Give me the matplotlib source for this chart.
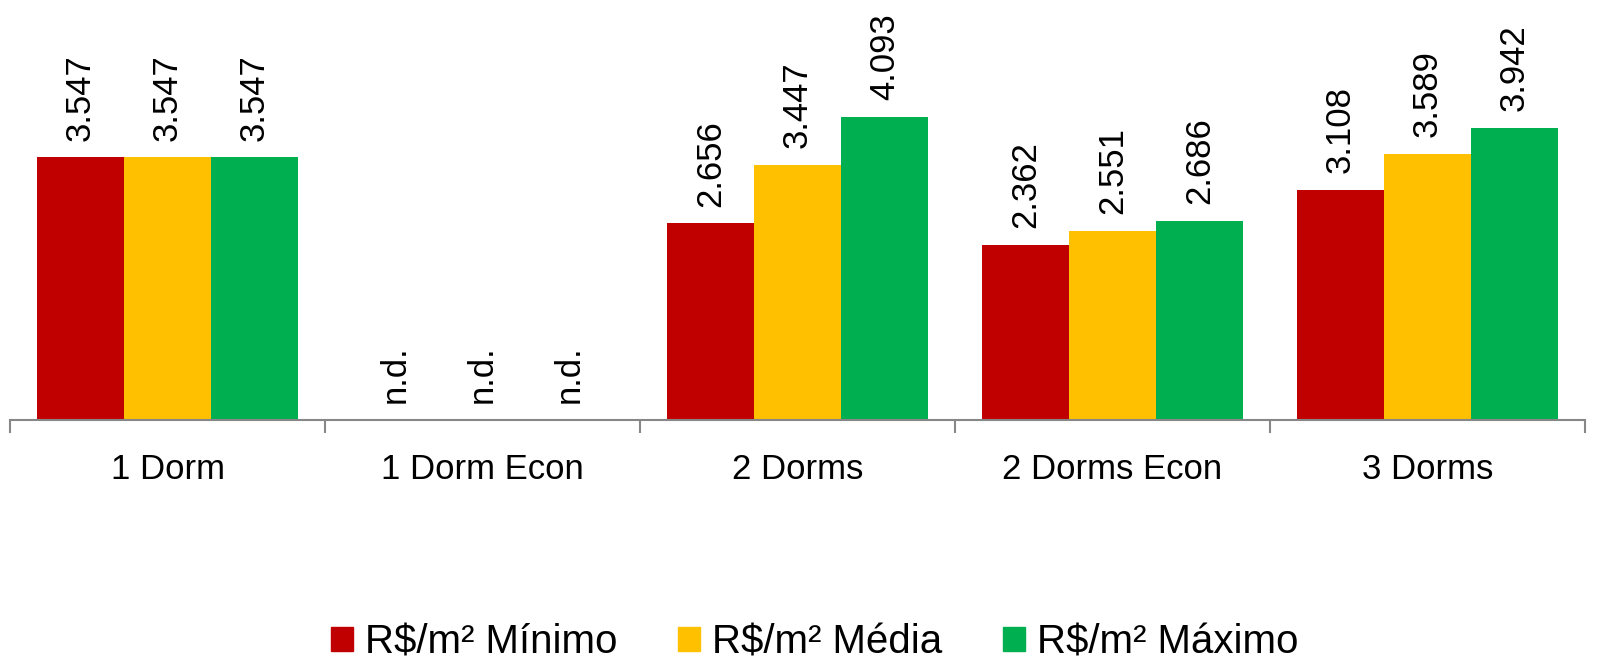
import numpy as np
import matplotlib.pyplot as plt
from matplotlib.patches import Patch

plt.rcParams['font.family'] = ['Liberation Sans', 'DejaVu Sans']

# Chart data
categories = ['1 Dorm', '1 Dorm Econ', '2 Dorms', '2 Dorms Econ', '3 Dorms']
series_names = ['R$/m² Mínimo', 'R$/m² Média', 'R$/m² Máximo']
minimo = [3.547, None, 2.656, 2.362, 3.108]
media = [3.547, None, 3.447, 2.551, 3.589]
maximo = [3.547, None, 4.093, 2.686, 3.942]
colors = ['#C00000', '#FFC000', '#00B050']

fig = plt.figure(figsize=(16.1, 6.68), dpi=100)
ax = fig.add_axes([10 / 1610, (668 - 420) / 668, 1575 / 1610, 420 / 668])

x = np.arange(len(categories))
width = 0.276
for i, (vals, col) in enumerate(zip([minimo, media, maximo], colors)):
    pos = x + (i - 1) * width
    heights = [v if v is not None else 0 for v in vals]
    ax.bar(pos, heights, width, color=col)
    for p, v in zip(pos, vals):
        txt = f'{v:.3f}' if v is not None else 'n.d.'
        ax.annotate(txt, (p, v if v is not None else 0), xytext=(0, 12),
                    textcoords='offset points', rotation=90,
                    ha='center', va='bottom', fontsize=25)

ax.set_xlim(-0.5, len(categories) - 0.5)
ax.set_ylim(0, 5.67)
ax.set_yticks([])
for s in ['left', 'top', 'right']:
    ax.spines[s].set_visible(False)
ax.spines['bottom'].set_color('#878787')
ax.spines['bottom'].set_linewidth(1.5)

ax.set_xticks(x)
ax.set_xticklabels(categories, fontsize=25)
ax.tick_params(axis='x', which='major', length=0, pad=24)
ax.set_xticks(np.arange(len(categories) + 1) - 0.5, minor=True)
ax.tick_params(axis='x', which='minor', length=9, width=1.5, color='#878787')

handles = [Patch(color=c) for c in colors]
fig.legend(handles, series_names, loc='center', bbox_to_anchor=(815 / 1610, 1 - 642 / 668),
           ncol=3, frameon=False, fontsize=29, handlelength=0.55, handleheight=0.55,
           handletextpad=0.3, columnspacing=1.5, borderaxespad=0, borderpad=0)

fig.savefig('out.png', dpi=100)
